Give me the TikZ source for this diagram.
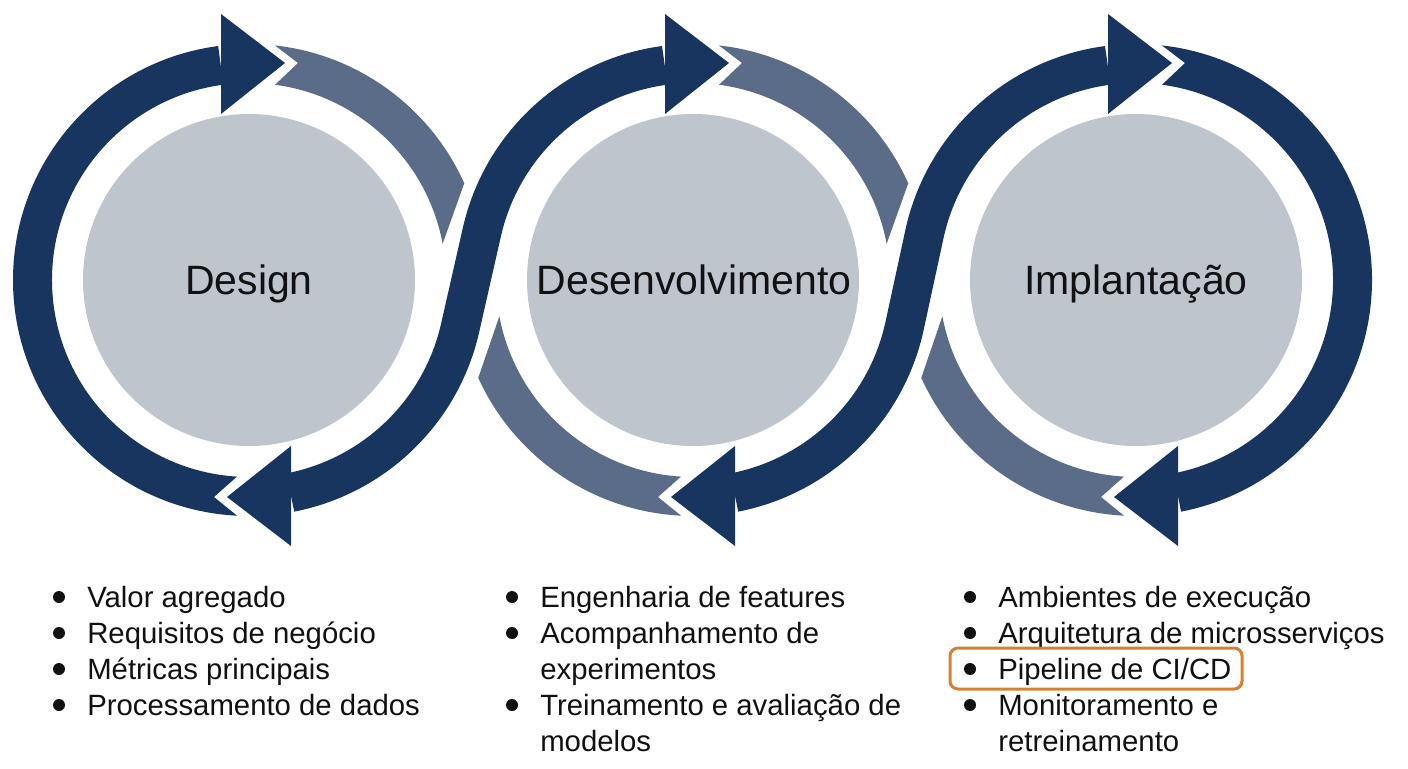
\documentclass[tikz,border=0pt]{standalone}
\usepackage{fontspec}
\setmainfont{Liberation Sans}
\definecolor{navy}{RGB}{23,53,94}
\definecolor{slate}{RGB}{90,108,135}
\definecolor{diskgray}{RGB}{190,197,205}
\definecolor{hl}{RGB}{214,128,48}
\definecolor{ink}{RGB}{17,17,17}
\newcommand\LightRight{%
  \fill[slate] (83.7:236) arc[start angle=83.7, end angle=24.2, radius=236]
    -- (10.6:197) arc[start angle=10.6, end angle=82.4, radius=197]
    -- (49,217) -- cycle;}
\newcommand\LightLowLeft{%
  \fill[slate] (204.5:236) arc[start angle=204.5, end angle=267.1, radius=236]
    -- (-35,-217) -- (266.5:197) arc[start angle=266.5, end angle=190.6, radius=197]
    -- cycle;}
\newcommand\TopHead{\fill[navy] (-28,166) -- (-28,266) -- (36,217) -- cycle;}
\newcommand\BotHead{\fill[navy] (42,-166) -- (42,-266) -- (-22,-217) -- cycle;}
\begin{document}
\begin{tikzpicture}[x=0.75pt,y=0.75pt,
  title/.style={font=\fontsize{30.75}{36}\selectfont, text=ink, anchor=base, inner sep=0},
  item/.style={font=\fontsize{22}{27}\selectfont, text=ink, anchor=base west, inner sep=0},
  band/.style={navy, line width=29.25pt, line cap=butt},
  bandgap/.style={white, line width=44.25pt, line cap=butt}]
\useasboundingbox (0,0) rectangle (1408,768);
\fill[white] (0,0) rectangle (1408,768);
\coordinate (c1) at (249,488);
\coordinate (c2) at (693,488);
\coordinate (c3) at (1136,488);
% light arcs
\begin{scope}[shift={(c1)}]\LightRight\end{scope}
\begin{scope}[shift={(c2)}]\LightRight\LightLowLeft\end{scope}
\begin{scope}[shift={(c3)}]\LightLowLeft\end{scope}
% S bands
\foreach \a/\b in {c1/c2,c2/c3}{
  \draw[bandgap] ([shift={(97.5:216.5)}]\b) arc[start angle=97.5, end angle=167.5, radius=216.5]
     -- ([shift={(-12.5:216.5)}]\a) arc[start angle=-12.5, end angle=-79, radius=216.5];
  \draw[band] ([shift={(97.5:216.5)}]\b) arc[start angle=97.5, end angle=167.5, radius=216.5]
     -- ([shift={(-12.5:216.5)}]\a) arc[start angle=-12.5, end angle=-79, radius=216.5];
}
% outer dark arcs
\begin{scope}[shift={(c1)}]
  \fill[navy] (267.1:236) arc[start angle=267.1, end angle=97.5, radius=236]
    -- (97.5:197) arc[start angle=97.5, end angle=266.5, radius=197]
    -- (-35,-217) -- cycle;
\end{scope}
\begin{scope}[shift={(c3)}]
  \fill[navy] (83.7:236) arc[start angle=83.7, end angle=-79, radius=236]
    -- (-79:197) arc[start angle=-79, end angle=82.4, radius=197]
    -- (49,217) -- cycle;
\end{scope}
% heads
\foreach \c in {c1,c2,c3}{
  \begin{scope}[shift={(\c)}]\TopHead\BotHead\end{scope}
  \fill[diskgray] (\c) circle (166);
}
\node[title] (t1) at (249,473) {Design};
\node[title] (t2) at (694,473) {Desenvolvimento};
\node[title] (t3) at (1136,473) {Implantação};
% bullets
\foreach \y in {171,135,99,63}{\fill[ink] (59,\y) circle (6);}
\foreach \y in {171,135,63}{\fill[ink] (512,\y) circle (6);}
\foreach \y in {171,135,99,63}{\fill[ink] (970,\y) circle (6);}
\node[item] (a1) at (87,160.5) {Valor agregado};
\node[item] (a2) at (87,124.5) {Requisitos de negócio};
\node[item] (a3) at (87,88.5) {Métricas principais};
\node[item] (a4) at (87,52.5) {Processamento de dados};
\node[item] (b1) at (540,160.5) {Engenharia de features};
\node[item] (b2) at (540,124.5) {Acompanhamento de};
\node[item] (b3) at (540,88.5) {experimentos};
\node[item] (b4) at (540,52.5) {Treinamento e avaliação de};
\node[item] (b5) at (540,16.5) {modelos};
\node[item] (d1) at (998,160.5) {Ambientes de execução};
\node[item] (d2) at (998,124.5) {Arquitetura de microsserviços};
\node[item] (d3) at (998,88.5) {Pipeline de CI/CD};
\node[item] (d4) at (998,52.5) {Monitoramento e};
\node[item] (d5) at (998,16.5) {retreinamento};
\draw[hl, line width=2.25pt, rounded corners=6pt] (950,79) rectangle (1242,120);
\end{tikzpicture}
\end{document}
